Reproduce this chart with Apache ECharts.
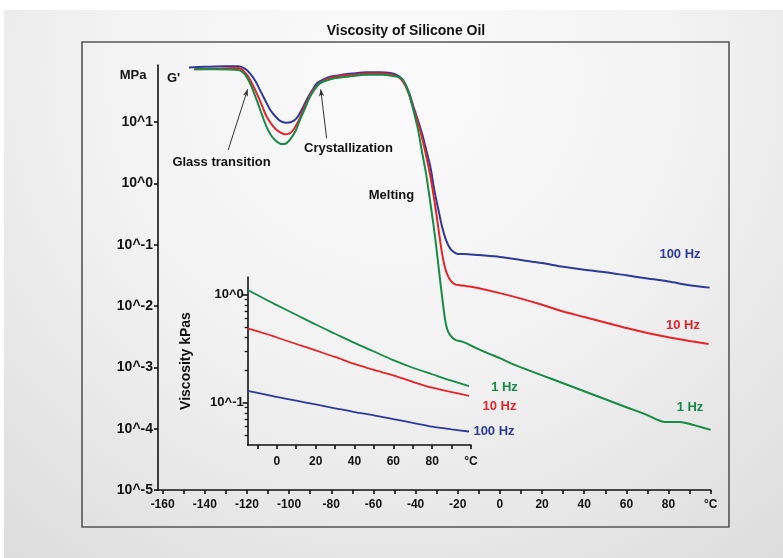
<!DOCTYPE html>
<html><head><meta charset="utf-8">
<script src="https://cdn.jsdelivr.net/npm/echarts@6/dist/echarts.min.js"></script>
<style>
html,body{margin:0;padding:0;}
body{width:783px;height:558px;background:#fff;position:relative;overflow:hidden;}
#bg{position:absolute;left:4px;top:10px;right:0;bottom:0;background:radial-gradient(ellipse 85% 120% at 50% 12%, #fbfbfb 0%, #f2f2f2 45%, #dadada 100%);}
#chart{position:absolute;left:0;top:0;width:783px;height:558px;}
</style></head>
<body><div id="bg"></div><div id="chart"></div>
<script>
// ---- Main chart: temperature (°C) and log10(G' / MPa) ----
const blueT = [-147.5,-140,-130,-124,-121,-118.5,-116,-113.8,-111,-109,-106.5,-104.3,-101.5,-99,-96.5,-94,-91.7,-89,-86.9,-83.5,-80.6,-75,-70,-63,-57,-52,-49,-47,-45,-43,-41,-39,-37,-35,-33,-31,-29,-27.5,-26,-24.5,-23,-21.5,-20,-17,-10,0,10,20,30,40,50,60,70,80,90,99.5];
const blueLogG = [1.89,1.90,1.91,1.91,1.87,1.79,1.67,1.52,1.33,1.20,1.09,1.02,0.99,1.00,1.06,1.20,1.36,1.52,1.63,1.70,1.74,1.77,1.79,1.81,1.81,1.80,1.77,1.72,1.63,1.47,1.25,1.04,0.82,0.55,0.27,-0.13,-0.46,-0.70,-0.88,-1.01,-1.09,-1.13,-1.15,-1.15,-1.17,-1.20,-1.25,-1.30,-1.36,-1.41,-1.45,-1.50,-1.55,-1.60,-1.66,-1.70];
const redT = [-145,-135,-124,-121.5,-119.4,-117.5,-115.4,-113,-110.7,-108,-105.9,-103.5,-102,-100,-98,-95.5,-93.3,-91,-88.6,-85.5,-82.2,-76,-70,-63,-57,-52,-49,-47,-45,-43,-41,-39,-37,-35,-33,-31,-29,-27.5,-26,-24.5,-23,-21,-19,-15,-10,0,10,20,30,40,50,60,70,80,90,99];
const redLogG = [1.86,1.87,1.88,1.83,1.74,1.62,1.47,1.28,1.09,0.95,0.87,0.82,0.80,0.81,0.87,1.02,1.20,1.37,1.52,1.63,1.70,1.75,1.77,1.79,1.79,1.78,1.75,1.70,1.60,1.44,1.22,1.00,0.75,0.45,0.12,-0.30,-0.78,-1.13,-1.38,-1.52,-1.60,-1.65,-1.66,-1.68,-1.71,-1.79,-1.88,-1.98,-2.09,-2.18,-2.27,-2.36,-2.44,-2.51,-2.57,-2.62];
const greenT = [-145,-135,-124,-122,-120.2,-118,-115.4,-113,-110.7,-108.5,-106.8,-105,-103.6,-101.5,-99.7,-97,-94.9,-92.5,-90.1,-87.7,-85.4,-82,-79,-72,-63,-56,-50.6,-47.5,-45.9,-43.5,-41.1,-39,-37.1,-35,-33.2,-31.5,-30,-28.8,-27.6,-26.1,-25,-23.7,-21.3,-18,-15.8,-11,-5,0,5,10,20,30,40,50,60,70,75,78,82,85,88.6,93,100];
const greenLogG = [1.86,1.86,1.85,1.81,1.74,1.59,1.36,1.13,0.92,0.78,0.71,0.66,0.64,0.65,0.71,0.85,1.03,1.22,1.41,1.54,1.63,1.68,1.71,1.74,1.77,1.77,1.75,1.73,1.68,1.50,1.20,0.90,0.54,0.15,-0.27,-0.68,-1.09,-1.45,-1.80,-2.20,-2.38,-2.47,-2.55,-2.58,-2.61,-2.69,-2.78,-2.85,-2.93,-3.00,-3.13,-3.26,-3.39,-3.52,-3.65,-3.78,-3.86,-3.89,-3.89,-3.89,-3.91,-3.95,-4.02];

// ---- Inset: temperature (°C) and log10(viscosity / kPas) ----
const insetT = [-15,-5,0,10,20,30,40,50,60,70,80,90,99];
const inset1Hz = [0.04,-0.055,-0.10,-0.19,-0.28,-0.365,-0.45,-0.53,-0.61,-0.68,-0.74,-0.80,-0.85];
const inset10Hz = [-0.315,-0.37,-0.40,-0.46,-0.52,-0.58,-0.645,-0.70,-0.75,-0.81,-0.865,-0.905,-0.94];
const inset100Hz = [-0.895,-0.93,-0.95,-0.985,-1.02,-1.055,-1.09,-1.12,-1.155,-1.19,-1.225,-1.25,-1.27];

// ---- Tick values and labels ----
const mainXTicks = [-160,-150,-140,-130,-120,-110,-100,-90,-80,-70,-60,-50,-40,-30,-20,-10,0,10,20,30,40,50,60,70,80,90,100];
const mainXLabelVals = [-160,-140,-120,-100,-80,-60,-40,-20,0,20,40,60,80,100];
const mainXLabels = ['-160','-140','-120','-100','-80','-60','-40','-20','0','20','40','60','80','°C'];
const mainYTicks = [-5,-4,-3,-2,-1,0,1];
const mainYLabels = ['10^-5','10^-4','10^-3','10^-2','10^-1','10^0','10^1'];
const insetXTicks = [-10,0,10,20,30,40,50,60,70,80,90,100];
const insetXLabelVals = [0,20,40,60,80,100];
const insetXLabels = ['0','20','40','60','80','°C'];
const insetYMajor = [-1,0];
const insetYLabels = ['10^-1','10^0'];
const insetYMinorFactors = [0.05,0.06,0.07,0.08,0.09,0.2,0.3,0.4,0.5,0.6,0.7,0.8,0.9];

const FONT = '"Liberation Sans", Arial, sans-serif';
const BLUE = '#2f3a98', RED = '#e4252b', GREEN = '#178a47';
const INK = '#111';

const pairs = (xs, ys) => xs.map((x, i) => [x, ys[i]]);
const labelFrom = (vals, labels) => v => { const i = vals.findIndex(u => Math.abs(u - v) < 1e-6); return i >= 0 ? labels[i] : ''; };

function line(name, xs, ys, color, xi, yi, w) {
  return { type: 'line', name, data: pairs(xs, ys), xAxisIndex: xi, yAxisIndex: yi,
    symbol: 'none', showSymbol: false, smooth: 0.3, silent: true, animation: false,
    lineStyle: { color, width: w }, z: 3 };
}

const axisLineStyle = { color: INK, width: 1.6 };
const chart = echarts.init(document.getElementById('chart'));
const blueSeries = line('100 Hz', blueT, blueLogG, BLUE, 0, 0, 2);
blueSeries.markLine = {
  silent: true, animation: false, symbol: ['none', 'arrow'], symbolSize: [4, 7],
  lineStyle: { color: '#333', width: 1, type: 'solid' }, label: { show: false },
  emphasis: { disabled: true },
  data: [
    [{ coord: [-128.9, 0.543] }, { coord: [-119.7, 1.533] }],
    [{ coord: [-82.2, 0.734] }, { coord: [-85.0, 1.533] }]
  ]
};

const txt = (text, x, y, color, size, align) => ({
  type: 'text', x, y, silent: true, z: 10,
  style: { text, fill: color, font: 'bold ' + size + 'px ' + FONT,
    textAlign: align || 'center', align: align || 'center', textVerticalAlign: 'middle', verticalAlign: 'middle' }
});

chart.setOption({
  animation: false,
  backgroundColor: 'transparent',
  grid: [
    { left: 158, top: 65, width: 552.7, height: 425, containLabel: false, outerBoundsMode: 'none' },
    { left: 247.7, top: 277, width: 223.3, height: 168, containLabel: false, outerBoundsMode: 'none' }
  ],
  xAxis: [
    { gridIndex: 0, type: 'value', min: -162.2, max: 100, position: 'bottom',
      axisLine: { onZero: false, lineStyle: axisLineStyle },
      axisTick: { customValues: mainXTicks, length: 4, lineStyle: axisLineStyle },
      axisLabel: { customValues: mainXLabelVals, formatter: labelFrom(mainXLabelVals, mainXLabels),
        fontFamily: FONT, fontWeight: 'bold', fontSize: 12, color: INK, margin: 9 },
      splitLine: { show: false } },
    { gridIndex: 1, type: 'value', min: -15, max: 100, position: 'bottom',
      axisLine: { onZero: false, lineStyle: axisLineStyle },
      axisTick: { customValues: insetXTicks, length: 4, lineStyle: axisLineStyle },
      axisLabel: { customValues: insetXLabelVals, formatter: labelFrom(insetXLabelVals, insetXLabels),
        fontFamily: FONT, fontWeight: 'bold', fontSize: 12, color: INK, margin: 11 },
      splitLine: { show: false } }
  ],
  yAxis: [
    { gridIndex: 0, type: 'value', min: -5, max: 1.93, position: 'left',
      axisLine: { show: true, onZero: false, lineStyle: axisLineStyle },
      axisTick: { show: true, customValues: mainYTicks, length: 4, lineStyle: axisLineStyle },
      axisLabel: { customValues: mainYTicks, formatter: labelFrom(mainYTicks, mainYLabels),
        fontFamily: FONT, fontWeight: 'bold', fontSize: 14, color: INK, margin: 5 },
      splitLine: { show: false } },
    { gridIndex: 1, type: 'value', min: -1.395, max: 0.16, position: 'left',
      name: 'Viscosity kPas', nameLocation: 'middle', nameRotate: 90, nameGap: 55,
      nameTextStyle: { fontFamily: FONT, fontWeight: 'bold', fontSize: 14, color: INK },
      axisLine: { show: true, onZero: false, lineStyle: axisLineStyle },
      axisTick: { show: true, customValues: insetYMajor, length: 5, lineStyle: axisLineStyle },
      axisLabel: { customValues: insetYMajor, formatter: labelFrom(insetYMajor, insetYLabels),
        fontFamily: FONT, fontWeight: 'bold', fontSize: 13, color: INK, margin: 4 },
      splitLine: { show: false } },
    { gridIndex: 1, type: 'value', min: -1.395, max: 0.16, position: 'left', offset: 0,
      axisLine: { show: false, onZero: false },
      axisTick: { show: true, customValues: insetYMinorFactors.map(f => Math.log10(f)), length: 3, lineStyle: { color: INK, width: 1.3 } },
      axisLabel: { show: false }, splitLine: { show: false } }
  ],
  series: [
    blueSeries,
    line('10 Hz', redT, redLogG, RED, 0, 0, 2),
    line('1 Hz', greenT, greenLogG, GREEN, 0, 0, 2),
    line('1 Hz inset', insetT, inset1Hz, GREEN, 1, 1, 1.8),
    line('10 Hz inset', insetT, inset10Hz, RED, 1, 1, 1.8),
    line('100 Hz inset', insetT, inset100Hz, BLUE, 1, 1, 1.8)
  ],
  graphic: [
    { type: 'rect', shape: { x: 82, y: 42, width: 647, height: 485 }, silent: true, z: 0,
      style: { fill: 'none', stroke: '#555', lineWidth: 1.6 } },
    txt('Viscosity of Silicone Oil', 406, 31, INK, 14),
    txt('MPa', 133, 75, INK, 13),
    txt("G'", 167, 78, INK, 13, 'left'),
    txt('Glass transition', 221.5, 162, INK, 13),
    txt('Crystallization', 348.5, 148.5, INK, 13),
    txt('Melting', 391.5, 195, INK, 13),
    txt('100 Hz', 680, 254, BLUE, 13),
    txt('10 Hz', 683, 325, RED, 13),
    txt('1 Hz', 690, 407.5, GREEN, 13),
    txt('1 Hz', 504.5, 387, GREEN, 13),
    txt('10 Hz', 499.5, 406, RED, 13),
    txt('100 Hz', 494, 431.5, BLUE, 13)
  ]
});
</script></body></html>
